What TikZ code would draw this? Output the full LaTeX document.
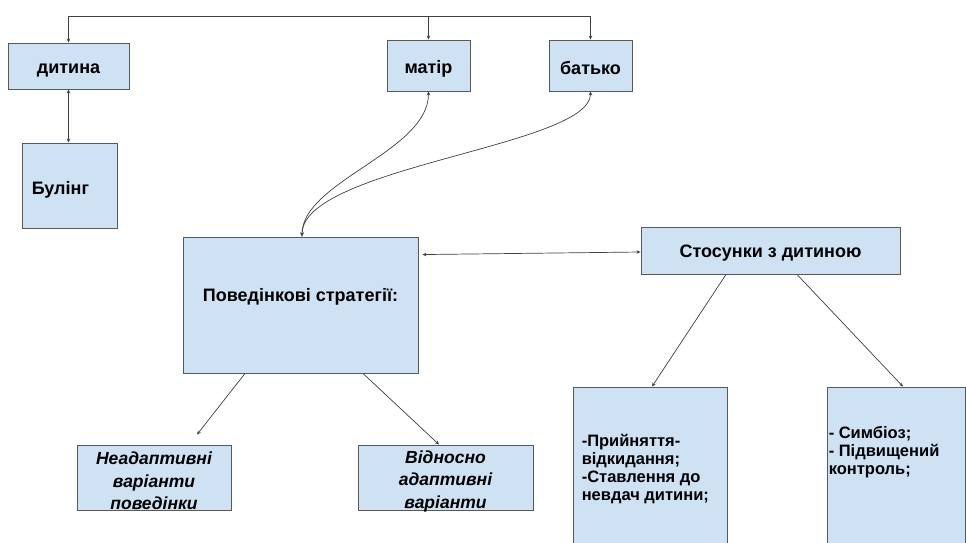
\documentclass[tikz,border=0pt]{standalone}
\usepackage{fontspec}
\setmainfont{Liberation Sans}
\usetikzlibrary{arrows.meta}
\definecolor{boxfill}{HTML}{CFE2F3}
\definecolor{boxline}{HTML}{595959}
\definecolor{arr}{HTML}{404040}
\begin{document}
\begin{tikzpicture}[x=1pt,y=-1pt,
  box/.style={draw=boxline, fill=boxfill, line width=0.9pt, inner sep=0pt, align=center, font=\bfseries\fontsize{18}{21}\selectfont},
  ttl/.style={font=\bfseries\fontsize{18}{21}\selectfont, inner sep=0pt, align=center},
  itl/.style={font=\bfseries\itshape\fontsize{17.5}{22.5}\selectfont, inner sep=0pt, align=center},
  lst/.style={font=\bfseries\fontsize{16.5}{17.8}\selectfont, inner sep=0pt, align=left, anchor=west},
  conn/.style={draw=arr, line width=0.7pt},
  tip/.style={-{Stealth[length=4pt,width=3.5pt]}},
  tips/.style={{Stealth[length=4pt,width=3.5pt]}-{Stealth[length=4pt,width=3.5pt]}}]
\useasboundingbox (0,0) rectangle (966,542);
\clip (0,0) rectangle (966,542);
\fill[white] (0,0) rectangle (966,542);
% boxes
\node[box, minimum width=121pt, minimum height=46pt] (dyt) at (68.5,66) {};
\node[ttl] (dytt) at ([yshift=-4pt]dyt.center) {дитина};
\node[box, minimum width=83pt, minimum height=51pt] (mat) at (428.5,65.5) {};
\node[ttl] (matt) at ([yshift=-3.5pt]mat.center) {матір};
\node[box, minimum width=83pt, minimum height=51pt] (bat) at (590.5,65.5) {};
\node[ttl] (batt) at ([yshift=-2.5pt]bat.center) {батько};
\node[box, minimum width=95pt, minimum height=85pt] (bul) at (69.5,185.5) {};
\node[ttl, anchor=west] (bult) at ([xshift=10pt,yshift=-4.5pt]bul.west) {Булінг};
\node[box, minimum width=235pt, minimum height=136pt] (pov) at (300.5,305) {};
\node[ttl] (povt) at ([yshift=8pt]pov.center) {Поведінкові стратегії:};
\node[box, minimum width=259pt, minimum height=47pt] (sto) at (770.5,250.5) {};
\node[ttl] (stot) at ([yshift=-3pt]sto.center) {Стосунки з дитиною};
\node[box, minimum width=154pt, minimum height=65pt] (neo) at (154,477.5) {};
\node[itl] (neot) at ([yshift=-3.5pt]neo.center) {Неадаптивні\\варіанти\\поведінки};
\node[box, minimum width=175pt, minimum height=65pt] (vid) at (445.5,477.5) {};
\node[itl] (vidt) at ([yshift=-3.5pt]vid.center) {Відносно\\адаптивні\\варіанти};
\node[box, minimum width=154pt, minimum height=180pt] (lb) at (650,477) {};
\node[lst] (lbt) at ([xshift=9pt,yshift=8pt]lb.west) {-Прийняття-\\відкидання;\\-Ставлення до\\невдач дитини;};
\node[box, minimum width=138pt, minimum height=180pt] (rb) at (896,477) {};
\node[lst] (rbt) at ([xshift=2pt,yshift=25pt]rb.west) {- Симбіоз;\\- Підвищений\\контроль;};
% top connector
\coordinate (topy) at (0,16);
\draw[conn, tips] (dyt.north) -- (dyt.north |- topy) -| (bat.north);
\draw[conn, tip] (mat.north |- topy) -- (mat.north);
% дитина - Булінг
\draw[conn, tips] (dyt.south) -- (dyt.south |- bul.north);
% curves
\draw[conn, tips] ([xshift=1.5pt]pov.north) .. controls +(0,-55) and +(0,60) .. (mat.south);
\draw[conn, tips] ([xshift=1.5pt]pov.north) .. controls +(0,-70) and +(0,55) .. (bat.south);
% horizontal
\draw[conn, tips] ([xshift=4pt,yshift=-18pt]pov.north east) -- ([yshift=-1.5pt]sto.west);
% lower arrows
\draw[conn, tip] ([xshift=-55.5pt]pov.south) -- ([xshift=43pt,yshift=10pt]neo.north);
\draw[conn, tip] ([xshift=62.5pt]pov.south) -- ([xshift=-6.5pt]vid.north);
\draw[conn, tip] ([xshift=-44.5pt]sto.south) -- ([xshift=2pt]lb.north);
\draw[conn, tip] ([xshift=26.5pt]sto.south) -- ([xshift=7pt]rb.north);
\end{tikzpicture}
\end{document}
